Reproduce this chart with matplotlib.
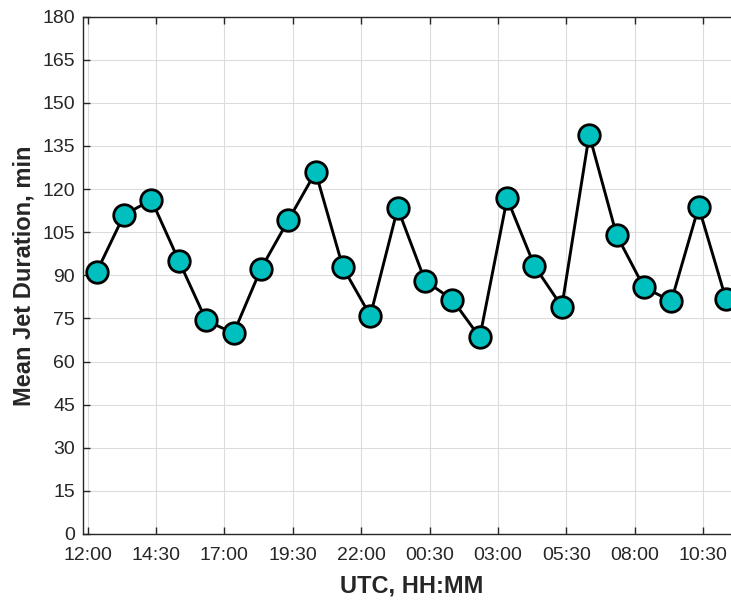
import matplotlib
matplotlib.use("Agg")
import matplotlib.pyplot as plt
import numpy as np

plt.rcParams['font.family'] = ['Liberation Sans', 'DejaVu Sans']

# time of each point, minutes after 12:00 UTC
time_minutes = [20 + 60 * k for k in range(24)]
mean_duration = [91.2, 111.0, 116.2, 95.1, 74.3, 69.8, 92.2, 109.1, 125.9, 92.7,
                 75.9, 113.3, 88.1, 81.5, 68.4, 116.7, 93.2, 79.1, 138.9, 104.0,
                 85.8, 81.0, 113.8, 81.6]
tick_minutes = [0, 150, 300, 450, 600, 750, 900, 1050, 1200, 1350]
tick_labels = ['12:00', '14:30', '17:00', '19:30', '22:00', '00:30', '03:00',
               '05:30', '08:00', '10:30']
y_ticks = list(range(0, 181, 15))

fig = plt.figure(figsize=(7.31, 6.01), dpi=100)
ax = fig.add_axes([83.3 / 731, 67 / 601, 656.4 / 731, 517.5 / 601])

x = np.array(time_minutes) / 60.0
ax.plot(x, mean_duration, '-o', color='black', lw=2.1,
        markerfacecolor='#00BFBF', markeredgecolor='black',
        markersize=15.5, markeredgewidth=2.0, zorder=3, clip_on=True)

ax.set_xlim(x[0] - 0.49, x[-1] + 0.5)
ax.set_ylim(0, 180)
ax.set_xticks(np.array(tick_minutes) / 60.0)
ax.set_xticklabels(tick_labels)
ax.set_yticks(y_ticks)

ax.grid(True, color='#dcdcdc', lw=0.8)
ax.set_axisbelow(True)
ax.tick_params(direction='in', length=5, width=1, colors='#262626',
               labelsize=14, top=True, right=True)
ax.tick_params(axis='x', pad=9)
ax.tick_params(axis='y', pad=6)
for s in ax.spines.values():
    s.set_color('#262626')
    s.set_linewidth(1)

ax.set_xlabel('UTC, HH:MM', fontsize=17, fontweight='bold', color='#262626', labelpad=8)
ax.set_ylabel('Mean Jet Duration, min', fontsize=17, fontweight='bold', color='#262626', labelpad=5)

fig.savefig('out.png', dpi=100)
